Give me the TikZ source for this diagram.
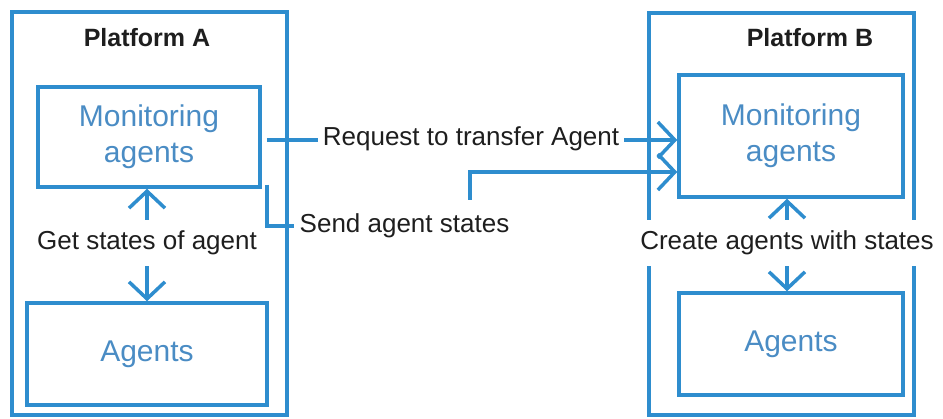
\documentclass[tikz,border=0pt]{standalone}
\usepackage{fontspec}
\setmainfont{Liberation Sans}
\usetikzlibrary{arrows.meta}
\definecolor{lineblue}{RGB}{46,141,206}
\definecolor{textblue}{RGB}{74,140,196}
\definecolor{ink}{RGB}{30,30,30}
\tikzset{
  platform/.style={draw=lineblue,line width=3.5pt,inner sep=0pt},
  unitbox/.style={draw=lineblue,line width=3.5pt,text=textblue,align=center,
    inner sep=0pt,font=\fontsize{30}{36}\selectfont},
  title/.style={text=ink,font=\bfseries\fontsize{25}{30}\selectfont},
  lbl/.style={fill=white,text=ink,font=\fontsize{26}{31}\selectfont,
    inner xsep=5pt,inner ysep=2pt},
  wire/.style={draw=lineblue,line width=3.5pt},
  link/.style={wire,-{Straight Barb[length=17pt,width=36pt]}},
}
\begin{document}
\begin{tikzpicture}[x=1pt,y=-1pt]
\useasboundingbox (0,0) rectangle (943,419);

% platforms
\node[platform,minimum width=275pt,minimum height=403pt] (platA) at (149.5,213.5) {};
\node[platform,minimum width=265pt,minimum height=402pt] (platB) at (781.5,214) {};
\node[title] (titleA) at (147,38) {Platform A};
\node[title] (titleB) at (810,38) {Platform B};

% components
\node[unitbox,minimum width=222pt,minimum height=100pt] (monA) at (149,137) {Monitoring\\agents};
\node[unitbox,minimum width=240pt,minimum height=102pt] (agA) at (147,354) {Agents};
\node[unitbox,minimum width=224pt,minimum height=122pt] (monB) at (791,136) {Monitoring\\agents};
\node[unitbox,minimum width=224pt,minimum height=102pt] (agB) at (791,344) {Agents};

% labels between the boxes of each platform
\node[lbl,inner ysep=11pt] (getLbl) at (147,243) {Get states of agent};
\node[lbl,inner ysep=11pt] (createLbl) at (787,243) {Create agents with states};

\draw[link] (getLbl.north) -- (getLbl.north |- monA.south);
\draw[link] (getLbl.south) -- (getLbl.south |- agA.north);
\draw[link] (createLbl.north) -- (createLbl.north |- monB.south);
\draw[link] (createLbl.south) -- (createLbl.south |- agB.north);

% transfer request
\path (monA.east) ++(5,3) coordinate (reqStart);
\draw[link] (reqStart) -- (reqStart -| monB.west);
\node[lbl] (reqLbl) at (471,139) {Request to transfer Agent};

% agent states
\path (monA.south east) ++(5,-4) coordinate (sendStart);
\coordinate (sendBend) at (470,226);
\coordinate (sendRise) at (470,172);
\draw[link] (sendStart) |- (sendBend) -- (sendRise) -- (sendRise -| monB.west);
\node[lbl,inner xsep=6pt,inner ysep=14pt] (sendLbl) at (404.5,226) {Send agent states};
\end{tikzpicture}
\end{document}
